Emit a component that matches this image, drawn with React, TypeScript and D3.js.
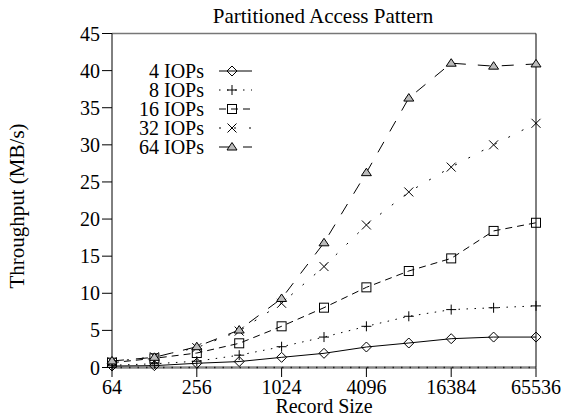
import React from "react";
import * as d3 from "d3";

// Record sizes (bytes) along the x axis
const recordSizes = [64, 128, 256, 512, 1024, 2048, 4096, 8192, 16384, 32768, 65536];
const xTickValues = [64, 256, 1024, 4096, 16384, 65536];
const yTickValues = [0, 5, 10, 15, 20, 25, 30, 35, 40, 45];

// Throughput (MB/s) per IOP count
const iops4 = [0.2, 0.25, 0.57, 0.8, 1.37, 1.91, 2.76, 3.3, 3.88, 4.1, 4.1];
const iops8 = [0.3, 0.5, 0.85, 1.66, 2.8, 4.1, 5.55, 6.9, 7.8, 8.05, 8.3];
const iops16 = [0.65, 1.24, 1.95, 3.26, 5.55, 8.06, 10.8, 13.0, 14.7, 18.4, 19.5];
const iops32 = [0.78, 1.45, 2.67, 4.9, 8.65, 13.6, 19.2, 23.65, 27.0, 30.0, 32.9];
const iops64 = [0.88, 1.37, 2.8, 5.05, 9.3, 16.8, 26.25, 36.3, 41.0, 40.6, 40.9];

const seriesNames = ["4 IOPs", "8 IOPs", "16 IOPs", "32 IOPs", "64 IOPs"];
const seriesValues = [iops4, iops8, iops16, iops32, iops64];
const seriesDash = [null, "1.5,6.5", "7,5", "2,13", "12,12"];
const seriesMarker = ["diamond", "plus", "square", "cross", "triangle"];

const W = 566;
const H = 417;
const FONT = "'Liberation Serif', 'Times New Roman', serif";

const x = d3.scaleLog().base(2).domain([64, 65536]).range([112, 536]);
const y = d3.scaleLinear().domain([0, 45]).range([367.5, 33.5]);

function Marker({ kind, cx, cy }: { kind: string; cx: number; cy: number }) {
  const s = { fill: "none", stroke: "#000", strokeWidth: 1 };
  if (kind === "diamond") {
    const r = 5;
    return <path d={`M${cx},${cy - r}L${cx + r},${cy}L${cx},${cy + r}L${cx - r},${cy}Z`} {...s} />;
  }
  if (kind === "plus") {
    const r = 5;
    return <path d={`M${cx - r},${cy}H${cx + r}M${cx},${cy - r}V${cy + r}`} {...s} />;
  }
  if (kind === "square") {
    const r = 4.5;
    return <rect x={cx - r} y={cy - r} width={2 * r} height={2 * r} {...s} />;
  }
  if (kind === "cross") {
    const r = 4.5;
    return <path d={`M${cx - r},${cy - r}L${cx + r},${cy + r}M${cx - r},${cy + r}L${cx + r},${cy - r}`} {...s} />;
  }
  const r = 5;
  return (
    <path
      d={`M${cx},${cy - r * 0.9}L${cx + r},${cy + r * 0.6}L${cx - r},${cy + r * 0.6}Z`}
      fill="#bbb"
      stroke="#000"
      strokeWidth={1}
    />
  );
}

export default function App() {
  const line = d3
    .line<number>()
    .x((_, i) => x(recordSizes[i]))
    .y((d) => y(d));

  const legendX = 204;
  const legendY0 = 71;
  const legendDy = 19;

  return (
    <svg
      width={W}
      height={H}
      style={{ position: "absolute", left: 0, top: 0, background: "#fff" }}
      fontFamily={FONT}
    >
      <rect x={0} y={0} width={W} height={H} fill="#fff" />
      {/* title */}
      <text x={323} y={23} textAnchor="middle" fontSize={21}>
        Partitioned Access Pattern
      </text>

      {/* frame */}
      <line x1={112} x2={536} y1={33.5} y2={33.5} stroke="#777" strokeWidth={1.5} />
      <line x1={112} x2={536} y1={367.5} y2={367.5} stroke="#888" strokeWidth={2.5} />
      <line x1={112} x2={536} y1={367.5} y2={367.5} stroke="#222" strokeWidth={1.5} strokeDasharray="1.5,7" />
      <line x1={112} x2={112} y1={33.5} y2={367.5} stroke="#000" strokeWidth={1} />
      <line x1={536} x2={536} y1={33.5} y2={367.5} stroke="#000" strokeWidth={1} />

      {/* y axis */}
      {yTickValues.map((v) => (
        <g key={v}>
          <line x1={102} x2={112} y1={y(v)} y2={y(v)} stroke="#000" />
          <text x={100} y={y(v) + 7} textAnchor="end" fontSize={20}>
            {v}
          </text>
        </g>
      ))}
      <text
        transform={`translate(24,206) rotate(-90)`}
        textAnchor="middle"
        fontSize={21}
      >
        Throughput (MB/s)
      </text>

      {/* x axis */}
      {xTickValues.map((v) => (
        <g key={v}>
          <line x1={x(v)} x2={x(v)} y1={367.5} y2={377} stroke="#000" />
          <text x={x(v)} y={394} textAnchor="middle" fontSize={20}>
            {v}
          </text>
        </g>
      ))}
      <text x={324} y={413} textAnchor="middle" fontSize={20}>
        Record Size
      </text>

      {/* series */}
      {seriesValues.map((vals, si) => (
        <g key={seriesNames[si]}>
          <path
            d={line(vals) || ""}
            fill="none"
            stroke="#000"
            strokeWidth={1}
            strokeDasharray={seriesDash[si] || undefined}
          />
          {vals.map((v, i) => (
            <Marker key={i} kind={seriesMarker[si]} cx={x(recordSizes[i])} cy={y(v)} />
          ))}
        </g>
      ))}

      {/* legend */}
      {seriesNames.map((name, si) => {
        const cy = legendY0 + si * legendDy;
        return (
          <g key={name}>
            <text x={legendX} y={cy + 7} textAnchor="end" fontSize={20}>
              {name}
            </text>
            <line
              x1={219}
              x2={252}
              y1={cy}
              y2={cy}
              stroke="#000"
              strokeWidth={1}
              strokeDasharray={seriesDash[si] || undefined}
            />
            <Marker kind={seriesMarker[si]} cx={232} cy={cy} />
          </g>
        );
      })}
    </svg>
  );
}
